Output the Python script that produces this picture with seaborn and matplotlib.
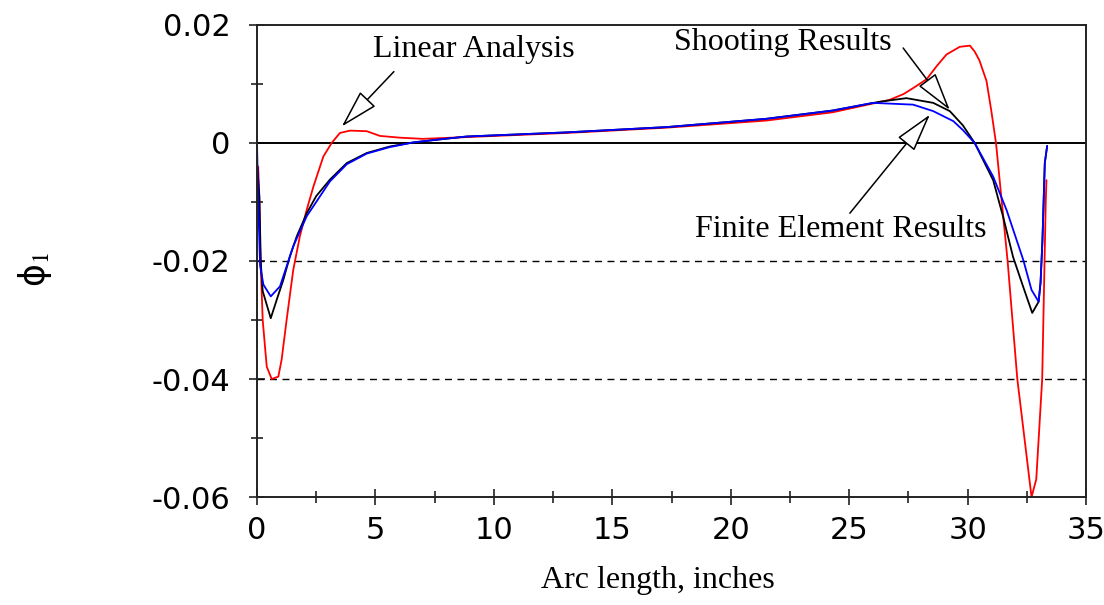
import numpy as np
import pandas as pd
import matplotlib
matplotlib.use("Agg")
import matplotlib.pyplot as plt
import seaborn as sns
from matplotlib.ticker import MultipleLocator, FuncFormatter

# Linear analysis (red)
lin_x = [0.05, 0.1, 0.13, 0.24, 0.41, 0.62, 0.9, 1.04, 1.25, 1.53, 1.81, 2.1, 2.38, 2.8, 3.15,
         3.5, 3.93, 4.63, 5.19, 6.04, 7.0, 8.85, 13.07, 17.3, 21.5, 24.3, 26.7, 27.3, 27.7,
         28.27, 28.69, 29.11, 29.67, 30.1, 30.3, 30.5, 30.8, 31.0, 31.2, 31.69, 32.1, 32.4,
         32.7, 32.9, 33.15, 33.25, 33.3, 33.33]
lin_y = [-0.004, -0.010, -0.0175, -0.030, -0.0379, -0.040, -0.0396, -0.0367, -0.030, -0.0215,
         -0.0158, -0.0113, -0.0074, -0.0023, 0.0, 0.0017, 0.0021, 0.0020, 0.0012, 0.0009, 0.0007,
         0.0010, 0.0017, 0.0026, 0.0038, 0.0052, 0.0073, 0.0083, 0.0093, 0.0108, 0.0130, 0.0150,
         0.0163, 0.0165, 0.0155, 0.0140, 0.0105, 0.0055, 0.0, -0.020, -0.040, -0.050, -0.060,
         -0.057, -0.040, -0.020, -0.010, -0.0063]

# Shooting results (black)
shoot_x = [0.0, 0.1, 0.16, 0.24, 0.58, 0.83, 1.11, 1.39, 1.68, 2.1, 2.5, 3.08, 3.79, 4.63, 5.6,
           6.6, 7.7, 8.85, 13.07, 17.3, 21.5, 24.3, 26.3, 27.42, 28.55, 29.25, 29.8, 30.3,
           31.08, 31.5, 31.92, 32.35, 32.73, 33.0, 33.08, 33.16, 33.26, 33.36]
shoot_y = [-0.0034, -0.009, -0.0203, -0.0251, -0.0297, -0.0266, -0.0232, -0.0192, -0.0158,
           -0.0119, -0.0090, -0.0062, -0.0034, -0.0017, -0.0006, 0.0001, 0.0006, 0.0011, 0.0018,
           0.0027, 0.0041, 0.0055, 0.0070, 0.0076, 0.0068, 0.0054, 0.0030, 0.0, -0.0063, -0.0125,
           -0.0193, -0.0244, -0.0288, -0.0269, -0.0237, -0.0166, -0.0034, -0.0005]

# Finite element results (blue)
fe_x = [0.0, 0.05, 0.13, 0.27, 0.58, 0.97, 1.25, 1.53, 2.1, 3.08, 3.79, 4.63, 5.6, 6.6, 7.7,
        8.85, 13.07, 17.3, 21.5, 24.3, 26.0, 27.7, 28.55, 29.4, 29.8, 30.3, 31.08, 31.65, 32.35,
        32.7, 33.0, 33.08, 33.16, 33.26, 33.36]
fe_y = [0.0, -0.010, -0.0208, -0.024, -0.026, -0.0243, -0.0209, -0.0175, -0.0124, -0.0065,
        -0.0036, -0.0018, -0.0007, 0.0001, 0.0006, 0.0011, 0.0018, 0.0027, 0.0041, 0.0055,
        0.0068, 0.0065, 0.0054, 0.0037, 0.0022, 0.0, -0.0057, -0.0114, -0.0198, -0.0249,
        -0.0269, -0.0237, -0.0166, -0.0034, -0.0005]

sns.set_style("ticks")
plt.rcParams["font.family"] = ["DejaVu Sans"]
plt.rcParams["mathtext.fontset"] = "stix"

fig = plt.figure(figsize=(11.04, 6.05), dpi=100)
ax = fig.add_axes([0.2328, 0.1785, 0.7509, 0.7802])

ax.axhline(0, color="black", lw=1.4, zorder=1)
for yv in (-0.02, -0.04):
    ax.axhline(yv, color="black", lw=1.0, ls=(0, (5, 4)), zorder=1)

sns.lineplot(x=lin_x, y=lin_y, color="red", lw=1.3, sort=False, estimator=None, ax=ax)
sns.lineplot(x=shoot_x, y=shoot_y, color="black", lw=1.3, sort=False, estimator=None, ax=ax)
sns.lineplot(x=fe_x, y=fe_y, color="blue", lw=1.3, sort=False, estimator=None, ax=ax)

ax.set_xlim(0, 35)
ax.set_ylim(-0.06, 0.02)
ax.xaxis.set_major_locator(MultipleLocator(5))
ax.xaxis.set_minor_locator(MultipleLocator(2.5))
ax.yaxis.set_major_locator(MultipleLocator(0.02))
ax.yaxis.set_minor_locator(MultipleLocator(0.01))
ax.yaxis.set_major_formatter(FuncFormatter(lambda v, p: "0" if abs(v) < 1e-9 else f"{v:.2f}"))
ax.tick_params(which="major", direction="inout", length=12, width=1.2, labelsize=22,
               color="#222222", labelcolor="black")
ax.tick_params(which="minor", direction="inout", length=9, width=1.2, color="#222222")
ax.tick_params(axis="y", pad=13)
ax.tick_params(axis="x", pad=8)
for sp in ax.spines.values():
    sp.set_visible(True)
    sp.set_linewidth(1.4)
    sp.set_color("#222222")

ax.set_xlabel("")
ax.set_ylabel("")
fig.text(0.596, 0.041, "Arc length, inches", ha="center", va="center",
         family="Liberation Serif", fontsize=23, color="black")
fig.text(0.032, 0.554, r"ϕ$_1$", ha="center", va="center", rotation=90, fontsize=25,
         color="black")

serif = dict(family="Liberation Serif", fontsize=23, ha="center", va="center", color="black")
ax.text(9.16, 0.0159, "Linear Analysis", **serif)
ax.text(22.22, 0.0170, "Shooting Results", **serif)
ax.text(24.65, -0.0147, "Finite Element Results", **serif)

arrow = dict(arrowstyle="-|>,head_length=2.45,head_width=0.68", fc="white", ec="black",
             lw=1.1, mutation_scale=10, shrinkA=0, shrinkB=0)
ax.annotate("", xy=(3.58, 0.0028), xytext=(5.78, 0.0121), arrowprops=arrow)
ax.annotate("", xy=(29.25, 0.0056), xytext=(27.28, 0.0161), arrowprops=arrow)
ax.annotate("", xy=(28.41, 0.0048), xytext=(25.03, -0.0119), arrowprops=arrow)

fig.savefig("out.png", dpi=100)
